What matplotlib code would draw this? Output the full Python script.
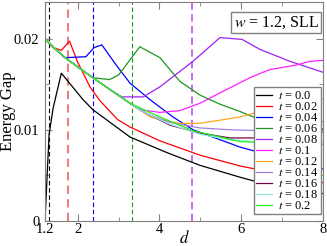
import matplotlib
matplotlib.use('Agg')
import matplotlib.pyplot as plt
import numpy as np

plt.rcParams['font.family'] = ['Liberation Serif', 'DejaVu Serif']
plt.rcParams['mathtext.fontset'] = 'stix'

# shared part of the curves at small d (t >= 0.06 follow it)
d_common = [1.2, 1.44, 1.69, 2.06, 2.37, 2.79, 3.28, 3.52, 3.77, 4.26]
g_common = [0.0200, 0.0189, 0.0179, 0.0167, 0.0157, 0.0144, 0.0129, 0.0122, 0.0116, 0.0106]

t_labels = ['0.0', '0.02', '0.04', '0.06', '0.08', '0.1', '0.12', '0.14', '0.16', '0.18', '0.2']
colors = ['black', '#ff0000', '#0000ff', '#1f961f', '#a020f0', '#ff20ff',
          '#ffa520', '#a080e0', '#7a0046', '#90ece0', '#20f020']

d_t000 = [1.2, 1.3, 1.4, 1.6, 2.13, 2.37, 3.28, 4.18, 4.99, 5.97, 6.46, 8.0]
g_t000 = [0.0, 0.0095, 0.0124, 0.0162, 0.0133, 0.0122, 0.0092, 0.0075, 0.0061, 0.0048, 0.0042, 0.0030]

d_t002 = [1.2, 1.4, 1.6, 1.8, 2.0, 2.3, 2.54, 2.98, 3.28, 4.0, 5.0, 6.0, 6.46, 8.0]
g_t002 = [0.0200, 0.0190, 0.0187, 0.0197, 0.0174, 0.0147, 0.0132, 0.0111, 0.0103, 0.0088, 0.0072, 0.0060, 0.0056, 0.0042]

d_t004 = [1.2, 1.44, 1.69, 2.2, 2.4, 2.59, 2.94, 3.28, 3.77, 4.33, 4.82, 5.97, 6.46, 8.0]
g_t004 = [0.0200, 0.0189, 0.0179, 0.0180, 0.0190, 0.0193, 0.0171, 0.0151, 0.0133, 0.0114, 0.0100, 0.0081, 0.0075, 0.0057]

d_t006 = d_common[:5] + [2.78, 3.0, 3.52, 4.01, 4.50, 4.99, 5.48, 5.97, 6.46, 8.0]
g_t006 = g_common[:5] + [0.0155, 0.0160, 0.0191, 0.0179, 0.0153, 0.0138, 0.0128, 0.0120, 0.0111, 0.0097]

d_t008 = d_common[:6] + [3.08, 3.60, 4.01, 4.82, 5.48, 6.02, 6.46, 7.19, 8.0]
g_t008 = g_common[:6] + [0.0136, 0.0136, 0.0147, 0.0175, 0.0201, 0.0199, 0.0188, 0.0175, 0.0163]

d_t010 = d_common[:8] + [4.01, 4.50, 4.99, 5.55, 6.21, 6.70, 7.36, 7.68, 8.0]
g_t010 = g_common[:8] + [0.0119, 0.0121, 0.0129, 0.0142, 0.0157, 0.0166, 0.0171, 0.0175, 0.0176]

d_t012 = d_common[:8] + [3.77, 4.01, 4.50, 4.99, 5.97, 6.46, 7.44, 8.0]
g_t012 = g_common[:8] + [0.0114, 0.0111, 0.0107, 0.0107, 0.0114, 0.0120, 0.0130, 0.0134]

d_t014 = d_common[:9] + [4.26, 4.99, 5.72, 6.46, 7.19, 8.0]
g_t014 = g_common[:9] + [0.0108, 0.0102, 0.0100, 0.0099, 0.0102, 0.0109]

d_t016 = d_common[:9] + [4.26, 4.92, 5.72, 6.46, 8.0]
g_t016 = g_common[:9] + [0.0105, 0.0097, 0.0091, 0.0091, 0.0101]

d_t018 = d_common[:9] + [4.26, 4.99, 5.72, 6.46, 8.0]
g_t018 = g_common[:9] + [0.0106, 0.0095, 0.0089, 0.0087, 0.0087]

d_t020 = d_common[:7] + [4.01, 4.82, 5.97, 6.46, 8.0]
g_t020 = g_common[:7] + [0.0114, 0.0099, 0.0087, 0.0086, 0.0084]

curves_d = [d_t000, d_t002, d_t004, d_t006, d_t008, d_t010, d_t012, d_t014, d_t016, d_t018, d_t020]
curves_g = [g_t000, g_t002, g_t004, g_t006, g_t008, g_t010, g_t012, g_t014, g_t016, g_t018, g_t020]

# dashed markers
vline_d = [1.3, 1.77, 2.37, 3.33, 4.79]
vline_colors = ['black', '#f08080', '#0000ff', '#1f961f', '#c060f0']
vline_widths = [0.8, 1.5, 0.8, 0.8, 1.3]

fig = plt.figure(figsize=(3.27, 2.46), dpi=100)
ax = fig.add_axes([45 / 327, 25 / 246, 278 / 327, 219 / 246])

for x, c, lw in zip(vline_d, vline_colors, vline_widths):
    ax.axvline(x, color=c, lw=lw, ls=(0, (4, 2.5)), zorder=1)

for d, g, c, lab in zip(curves_d, curves_g, colors, t_labels):
    ax.plot(d, g, color=c, lw=0.9, label='$t$ = ' + lab, zorder=2)

ax.set_xlim(1.2, 8)
ax.set_ylim(0, 0.024)
ax.set_xticks([1.2, 2, 4, 6, 8])
ax.set_xticklabels(['1.2', '2', '4', '6', '8'])
ax.set_xticks([3, 5, 7], minor=True)
ax.set_yticks([0, 0.01, 0.02])
ax.set_yticklabels(['0', '0.01', '0.02'])
ax.set_yticks([0.005, 0.015], minor=True)
ax.tick_params(which='both', direction='in', top=True, right=True, color='gray',
               labelsize=10.5)
ax.tick_params(axis='x', pad=1.5)
ax.tick_params(axis='y', pad=4)
ax.tick_params(which='major', length=5)
ax.tick_params(which='minor', length=3)
for s in ax.spines.values():
    s.set_color('gray')

ax.set_xlabel('$d$', fontsize=12)
ax.xaxis.set_label_coords(0.5, -0.04)
ax.set_ylabel('Energy Gap', fontsize=12)
ax.yaxis.set_label_coords(-0.105, 0.5)

ax.text(0.985, 0.945, '$w$ = 1.2, SLL', transform=ax.transAxes, ha='right', va='top',
        fontsize=11.5, bbox=dict(boxstyle='square,pad=0.15', fc='white', ec='gray', lw=1))

leg = ax.legend(loc='lower right', bbox_to_anchor=(0.993, 0.03), borderaxespad=0,
                fontsize=8.9, labelspacing=-0.08, handlelength=1.3, handletextpad=0.5,
                borderpad=0.2, fancybox=False, framealpha=1, edgecolor='gray')
leg.get_frame().set_linewidth(1)

fig.savefig('out.png', dpi=100)
